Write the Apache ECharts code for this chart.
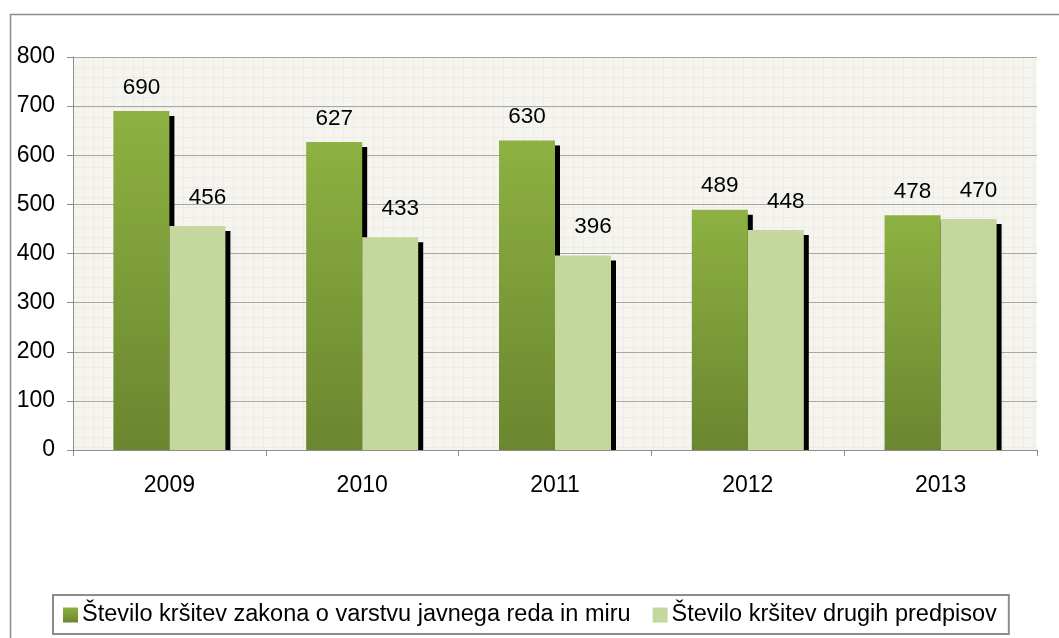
<!DOCTYPE html>
<html>
<head>
<meta charset="utf-8">
<script src="https://cdn.jsdelivr.net/npm/echarts@6/dist/echarts.min.js"></script>
<style>
  html, body { margin: 0; padding: 0; background: #fff; }
  #chart { width: 1059px; height: 638px; }
</style>
</head>
<body>
<div id="chart"></div>
<script>
// podatki
var years = ["2009", "2010", "2011", "2012", "2013"];
var zjrm = [690, 627, 630, 489, 478];     // zakon o varstvu javnega reda in miru
var drugi = [456, 433, 396, 448, 470];    // drugi predpisi
var yTicks = [0, 100, 200, 300, 400, 500, 600, 700, 800];

var chart = echarts.init(document.getElementById("chart"));

// drobna mreža v ozadju (kot Excelova tekstura)
var tex = document.createElement("canvas");
tex.width = 10;
tex.height = 10;
var tctx = tex.getContext("2d");
tctx.fillStyle = "#f5f4ef";
tctx.fillRect(0, 0, 10, 10);
tctx.fillStyle = "#edece6";
tctx.fillRect(0, 0, 10, 1);
tctx.fillRect(0, 0, 1, 10);

var barShadow = {
  shadowColor: "#000",
  shadowBlur: 0,
  shadowOffsetX: 5,
  shadowOffsetY: 5
};

var option = {
  backgroundColor: "#fff",
  animation: false,
  textStyle: { fontFamily: "Liberation Sans, Arial, sans-serif" },
  graphic: [
    {
      // okvir grafa
      type: "rect",
      left: 8,
      top: 12,
      shape: { width: 1100, height: 700 },
      style: { fill: "none", stroke: "#8c8c8c", lineWidth: 1.5 },
      z: -1
    },
    {
      type: "rect",
      left: 73,
      top: 57,
      shape: { width: 964, height: 393 },
      style: { fill: { image: tex, repeat: "repeat" } },
      z: 0
    },
    {
      // senca stolpcev ne sme pod os
      type: "rect",
      left: 73,
      top: 451,
      shape: { width: 966, height: 8 },
      style: { fill: "#fff" },
      z: 5
    }
  ],
  grid: {
    left: 73,
    right: 22,
    top: 57,
    bottom: 188,
    show: false
  },
  legend: {
    bottom: 4,
    left: 53,
    data: ["Število kršitev zakona o varstvu javnega reda in miru", "Število kršitev drugih predpisov"],
    itemWidth: 15,
    itemHeight: 15,
    itemGap: 22,
    padding: [8, 12, 7, 10],
    borderColor: "#8c8c8c",
    borderWidth: 2,
    backgroundColor: "#fff",
    icon: "rect",
    textStyle: { fontSize: 23.5, color: "#000", padding: [0, 0, 0, -1] }
  },
  xAxis: {
    type: "category",
    data: years,
    z: 10,
    axisLine: { show: true, lineStyle: { color: "#8c8c8c", width: 1 } },
    axisTick: { show: true, length: 6, alignWithLabel: false, lineStyle: { color: "#8c8c8c" } },
    axisLabel: { fontSize: 23, color: "#000", margin: 24 },
    splitLine: { show: false }
  },
  yAxis: {
    type: "value",
    min: 0,
    max: 800,
    interval: 100,
    z: 1,
    axisLine: { show: true, lineStyle: { color: "#8c8c8c", width: 1 } },
    axisTick: { show: true, length: 6, lineStyle: { color: "#8c8c8c" } },
    axisLabel: {
      fontSize: 23,
      color: "#000",
      margin: 18,
      formatter: function (v) { return yTicks.indexOf(v) >= 0 ? String(v) : ""; }
    },
    splitLine: { show: true, lineStyle: { color: "#a6a6a6", width: 1 } }
  },
  series: [
    {
      name: "Število kršitev zakona o varstvu javnega reda in miru",
      type: "bar",
      data: zjrm,
      barWidth: 56,
      barGap: "0%",
      itemStyle: Object.assign({
        color: new echarts.graphic.LinearGradient(0, 0, 0, 1, [
          { offset: 0, color: "#8db142" },
          { offset: 1, color: "#6a862f" }
        ])
      }, barShadow),
      label: {
        show: true,
        position: "top",
        distance: 12,
        fontSize: 22.5,
        color: "#000"
      },
      z: 2
    },
    {
      name: "Število kršitev drugih predpisov",
      type: "bar",
      data: drugi,
      barWidth: 56,
      barGap: "0%",
      itemStyle: Object.assign({ color: "#c4d79c" }, barShadow),
      label: {
        show: true,
        position: "top",
        distance: 17,
        offset: [10, 0],
        fontSize: 22.5,
        color: "#000"
      },
      z: 3
    }
  ]
};

chart.setOption(option);
</script>
</body>
</html>
